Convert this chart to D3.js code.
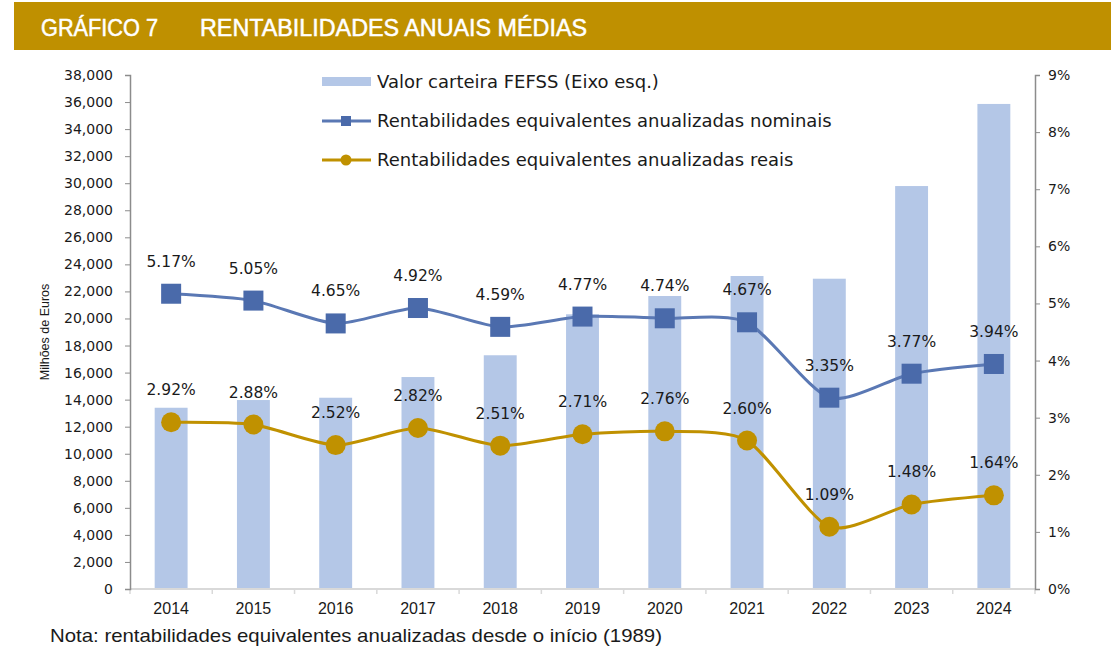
<!DOCTYPE html>
<html>
<head>
<meta charset="utf-8">
<script src="https://cdn.jsdelivr.net/npm/d3@7"></script>
<style>
  body { margin: 0; background: #fff; }
  text { font-family: "DejaVu Sans", Verdana, sans-serif; fill: #1a1a1a; }
  .narrow { font-family: "Liberation Sans", Arial, sans-serif; }
</style>
</head>
<body>
<svg id="chart" width="1111" height="648"></svg>
<script>
const years = ['2014','2015','2016','2017','2018','2019','2020','2021','2022','2023','2024'];
const carteira = [13400, 13970, 14140, 15670, 17280, 20310, 21660, 23140, 22940, 29790, 35860];
const nominais = [5.17, 5.05, 4.65, 4.92, 4.59, 4.77, 4.74, 4.67, 3.35, 3.77, 3.94];
const reais = [2.92, 2.88, 2.52, 2.82, 2.51, 2.71, 2.76, 2.60, 1.09, 1.48, 1.64];
const leftTicks = d3.range(0, 38001, 2000);
const rightTicks = d3.range(0, 10, 1);

const blueBar = '#b4c7e7';
const blueLine = '#5a78b4';
const blueMark = '#4a6aaa';
const gold = '#c09100';

const margin = {left: 130, right: 76, top: 75, bottom: 59};
const width = 1111, height = 648;
const svg = d3.select('#chart');

// header band
svg.append('rect')
    .attr('x', 14).attr('y', 2)
    .attr('width', 1097).attr('height', 48)
    .attr('fill', '#bf9000');
svg.append('text')
    .attr('class', 'narrow')
    .attr('x', 41).attr('y', 36)
    .attr('textLength', 117).attr('lengthAdjust', 'spacingAndGlyphs')
    .style('font-size', '23px').style('fill', '#fff')
    .style('stroke', '#fff').style('stroke-width', 0.5)
    .text('GRÁFICO 7');
svg.append('text')
    .attr('class', 'narrow')
    .attr('x', 200).attr('y', 36)
    .attr('textLength', 387).attr('lengthAdjust', 'spacingAndGlyphs')
    .style('font-size', '23px').style('fill', '#fff')
    .style('stroke', '#fff').style('stroke-width', 0.5)
    .text('RENTABILIDADES ANUAIS MÉDIAS');

const x = d3.scaleBand()
    .domain(years)
    .range([margin.left, width - margin.right])
    .paddingInner(0.6).paddingOuter(0.3);
const xc = d => x(d) + x.bandwidth() / 2;

const yL = d3.scaleLinear().domain([0, 38000]).range([height - margin.bottom, margin.top]);
const yR = d3.scaleLinear().domain([0, 9]).range([height - margin.bottom, margin.top]);

// bars
svg.append('g').selectAll('rect')
    .data(years)
    .join('rect')
    .attr('x', d => x(d))
    .attr('width', x.bandwidth())
    .attr('y', (d, i) => yL(carteira[i]))
    .attr('height', (d, i) => yL(0) - yL(carteira[i]))
    .attr('fill', blueBar);

// bottom axis
const x0 = margin.left, x1 = width - margin.right, yb = yL(0);
svg.append('line')
    .attr('x1', x0).attr('x2', x1).attr('y1', yb).attr('y2', yb)
    .attr('stroke', '#d9d9d9').attr('stroke-width', 2);
svg.append('g').selectAll('line')
    .data(d3.range(years.length + 1))
    .join('line')
    .attr('x1', i => x0 + i * (x1 - x0) / years.length)
    .attr('x2', i => x0 + i * (x1 - x0) / years.length)
    .attr('y1', yb).attr('y2', yb + 5)
    .attr('stroke', '#d9d9d9').attr('stroke-width', 1.5);
svg.append('g').selectAll('text')
    .data(years)
    .join('text')
    .attr('class', 'narrow')
    .attr('x', d => xc(d))
    .attr('y', yb + 25)
    .attr('text-anchor', 'middle')
    .style('font-size', '16px')
    .text(d => d);

// left axis
const gl = svg.append('g')
    .attr('transform', `translate(${margin.left},0)`)
    .call(d3.axisLeft(yL).tickValues(leftTicks).tickSize(5).tickPadding(12)
        .tickFormat(d3.format(',')));
gl.select('.domain').attr('stroke', '#8c8c8c').attr('stroke-width', 1.5);
gl.selectAll('.tick line').attr('stroke', '#8c8c8c');
gl.selectAll('.tick text').style('font-size', '14px')
    .style('font-family', '"DejaVu Sans", Verdana, sans-serif').attr('fill', '#1a1a1a');

svg.append('text')
    .attr('class', 'narrow')
    .attr('transform', `translate(49,${(yL(0) + yL(38000)) / 2}) rotate(-90)`)
    .attr('text-anchor', 'middle')
    .style('font-size', '12.5px')
    .text('Milhões de Euros');

// right axis
const gr = svg.append('g')
    .attr('transform', `translate(${width - margin.right},0)`)
    .call(d3.axisRight(yR).tickValues(rightTicks).tickSize(5).tickPadding(8)
        .tickFormat(d => d + '%'));
gr.select('.domain').attr('stroke', '#8c8c8c').attr('stroke-width', 1.5);
gr.selectAll('.tick line').attr('stroke', '#8c8c8c');
gr.selectAll('.tick text').style('font-size', '14px')
    .style('font-family', '"DejaVu Sans", Verdana, sans-serif').attr('fill', '#1a1a1a');

// lines
const line = d3.line()
    .x((d, i) => xc(years[i]))
    .y(d => yR(d))
    .curve(d3.curveCardinal.tension(0.3));

svg.append('path').datum(nominais)
    .attr('d', line).attr('fill', 'none')
    .attr('stroke', blueLine).attr('stroke-width', 3);
svg.append('g').selectAll('rect')
    .data(nominais)
    .join('rect')
    .attr('x', (d, i) => xc(years[i]) - 10)
    .attr('y', d => yR(d) - 10)
    .attr('width', 20).attr('height', 20)
    .attr('fill', blueMark);

svg.append('path').datum(reais)
    .attr('d', line).attr('fill', 'none')
    .attr('stroke', gold).attr('stroke-width', 3);
svg.append('g').selectAll('circle')
    .data(reais)
    .join('circle')
    .attr('cx', (d, i) => xc(years[i]))
    .attr('cy', d => yR(d))
    .attr('r', 10)
    .attr('fill', gold);

// data labels
const fmt = d => d.toFixed(2) + '%';
[nominais, reais].forEach(series => {
    svg.append('g').selectAll('text')
        .data(series)
        .join('text')
        .attr('x', (d, i) => xc(years[i]))
        .attr('y', d => yR(d) - 27)
        .attr('text-anchor', 'middle')
        .style('font-size', '15.5px')
        .text(fmt);
});

// legend
const lg = svg.append('g');
lg.append('rect').attr('x', 322).attr('y', 77).attr('width', 49).attr('height', 9).attr('fill', blueBar);
lg.append('text').attr('x', 377).attr('y', 88).style('font-size', '18px').text('Valor carteira FEFSS (Eixo esq.)');
lg.append('line').attr('x1', 322).attr('x2', 371).attr('y1', 121).attr('y2', 121)
    .attr('stroke', blueLine).attr('stroke-width', 3);
lg.append('rect').attr('x', 341).attr('y', 116).attr('width', 10).attr('height', 10).attr('fill', blueMark);
lg.append('text').attr('x', 377).attr('y', 127).style('font-size', '18px').text('Rentabilidades equivalentes anualizadas nominais');
lg.append('line').attr('x1', 322).attr('x2', 371).attr('y1', 160).attr('y2', 160)
    .attr('stroke', gold).attr('stroke-width', 3);
lg.append('circle').attr('cx', 346).attr('cy', 160).attr('r', 5.5).attr('fill', gold);
lg.append('text').attr('x', 377).attr('y', 166).style('font-size', '18px').text('Rentabilidades equivalentes anualizadas reais');

// footnote
svg.append('text')
    .attr('class', 'narrow')
    .attr('x', 50).attr('y', 642)
    .attr('textLength', 612).attr('lengthAdjust', 'spacingAndGlyphs')
    .style('font-size', '19px')
    .text('Nota: rentabilidades equivalentes anualizadas desde o início (1989)');
</script>
</body>
</html>
